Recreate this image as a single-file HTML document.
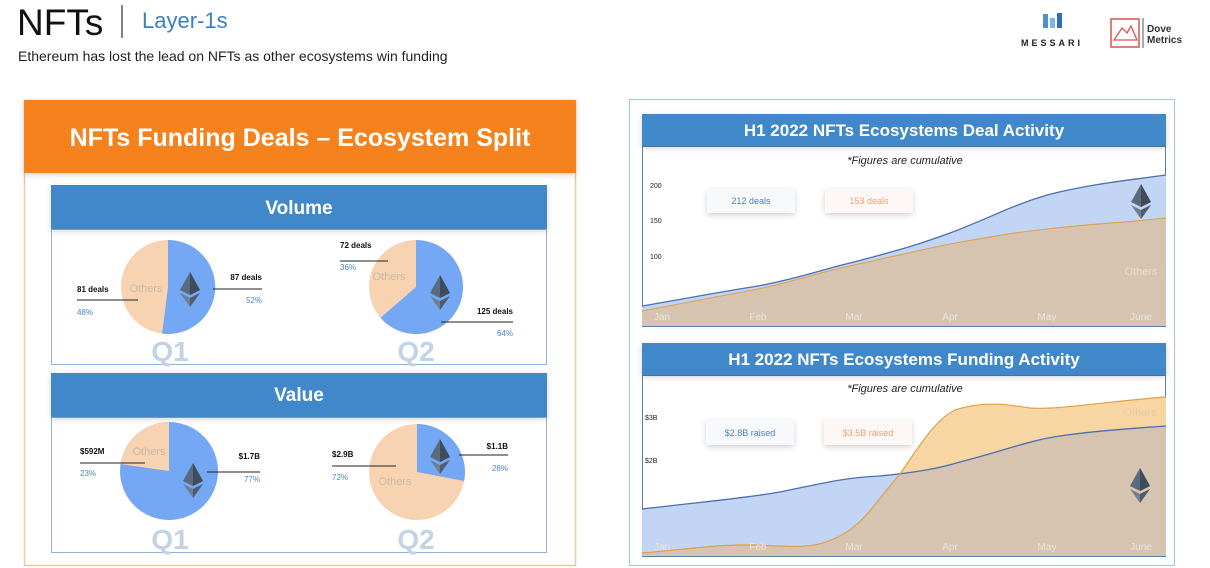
<!DOCTYPE html>
<html><head><meta charset="utf-8"><style>
body{margin:0;background:#fff;}
svg{display:block;font-family:"Liberation Sans",sans-serif;}
</style></head><body>
<svg width="1210" height="568" viewBox="0 0 1210 568" xmlns="http://www.w3.org/2000/svg">
<defs>
<filter id="sh" x="-10%" y="-30%" width="120%" height="160%"><feDropShadow dx="0" dy="2" stdDeviation="3" flood-color="#000" flood-opacity="0.18"/></filter>
<g id="eth"><polygon points="0,-17 -10,1 0,6 10,1" fill="#5a6b80"/><polygon points="0,-17 0,6 10,1" fill="#3e4c5e"/><polygon points="-10,4 0,18 10,4 0,9" fill="#6f7f93"/><polygon points="0,9 0,18 10,4" fill="#4e5c6e"/></g>
</defs>
<!-- header -->
<text x="17" y="35" font-size="37" fill="#111" font-weight="300">NFTs</text>
<line x1="122" y1="5" x2="122" y2="38" stroke="#333" stroke-width="1.2"/>
<text x="142" y="28" font-size="22" fill="#3a7fc4">Layer-1s</text>
<text x="18" y="61" font-size="14" fill="#222">Ethereum has lost the lead on NFTs as other ecosystems win funding</text>
<!-- logos -->
<g transform="translate(1052,22)"><rect x="-9" y="-8" width="5" height="14" fill="#4f8fd1"/><rect x="-2" y="-4" width="5" height="10" fill="#7fb3e6"/><rect x="5" y="-9" width="5" height="15" fill="#2f6db5"/></g>
<text x="1052" y="46" font-size="9" font-weight="bold" fill="#222" text-anchor="middle" letter-spacing="3">MESSARI</text>
<rect x="1111" y="19" width="28" height="28" fill="none" stroke="#d9534f" stroke-width="1.5"/>
<path d="M1114,40 L1122,28 L1127,33 L1131,26 L1137,40 Z" fill="none" stroke="#d9534f" stroke-width="1.3"/>
<line x1="1143" y1="18" x2="1143" y2="48" stroke="#555"/>
<text x="1147" y="32" font-size="10" font-weight="bold" fill="#333">Dove</text>
<text x="1147" y="43" font-size="10" font-weight="bold" fill="#333">Metrics</text>

<!-- LEFT PANEL -->
<rect x="24.5" y="100.5" width="551" height="465" fill="#fff" stroke="#e8c9a0" stroke-width="1.5"/>
<rect x="24" y="100" width="552" height="73" fill="#f5821f" filter="url(#sh)"/>
<text x="300" y="146" font-size="25" font-weight="bold" fill="#fff" text-anchor="middle">NFTs Funding Deals – Ecosystem Split</text>

<rect x="51.5" y="229.5" width="495" height="135" fill="#fff" stroke="#8fb2d6"/>
<rect x="51" y="185" width="496" height="44" fill="#3f88c9" filter="url(#sh)"/>
<text x="299" y="214" font-size="19" font-weight="bold" fill="#fff" text-anchor="middle">Volume</text>

<rect x="51.5" y="417.5" width="495" height="135" fill="#fff" stroke="#8fb2d6"/>
<rect x="51" y="373" width="496" height="44" fill="#3f88c9" filter="url(#sh)"/>
<text x="299" y="401" font-size="19" font-weight="bold" fill="#fff" text-anchor="middle">Value</text>

<!-- Q1 volume: 52% eth -->
<circle cx="168" cy="287" r="47" fill="#f7d3b1"/>
<path d="M168,287 L168,240 A47,47 0 1 1 162.1,333.6 Z" fill="#74a7f4"/>
<text x="146" y="292" font-size="11" fill="#c9b9a6" text-anchor="middle">Others</text>
<use href="#eth" transform="translate(190,289)"/>
<!-- Q2 volume: 64% eth -->
<circle cx="416" cy="287" r="47" fill="#f7d3b1"/>
<path d="M416,240 A47,47 0 1 1 380.5,317.8 L416,287 Z" fill="#74a7f4"/>
<text x="389" y="280" font-size="11" fill="#c9b9a6" text-anchor="middle">Others</text>
<use href="#eth" transform="translate(440,292)"/>
<!-- Q1 value: 77% eth -->
<circle cx="169" cy="471" r="49" fill="#74a7f4"/>
<path d="M169,471 L169,422 A49,49 0 0 0 120.5,464 Z" fill="#f7d3b1"/>
<text x="149" y="455" font-size="11" fill="#c9b9a6" text-anchor="middle">Others</text>
<use href="#eth" transform="translate(193,480)"/>
<!-- Q2 value: 28% eth -->
<circle cx="417" cy="472" r="48" fill="#f7d3b1"/>
<path d="M417,472 L417,424 A48,48 0 0 1 464.1,481 Z" fill="#74a7f4"/>
<text x="395" y="485" font-size="11" fill="#c9b9a6" text-anchor="middle">Others</text>
<use href="#eth" transform="translate(440,456)"/>

<g font-size="28" font-weight="bold" fill="#c2d3e6" text-anchor="middle">
<text x="170" y="361">Q1</text><text x="416" y="361">Q2</text>
<text x="170" y="549">Q1</text><text x="416" y="549">Q2</text>
</g>
<g font-size="8" font-weight="bold" fill="#111">
<text x="77" y="292">81 deals</text><text x="262" y="280" text-anchor="end">87 deals</text>
<text x="340" y="248">72 deals</text><text x="513" y="314" text-anchor="end">125 deals</text>
<text x="80" y="454">$592M</text><text x="260" y="459" text-anchor="end">$1.7B</text>
<text x="332" y="457">$2.9B</text><text x="508" y="449" text-anchor="end">$1.1B</text>
</g>
<g stroke="#222" stroke-width="1">
<line x1="77" y1="300" x2="138" y2="300"/><line x1="213" y1="289" x2="262" y2="289"/>
<line x1="340" y1="261" x2="388" y2="261"/><line x1="441" y1="322" x2="513" y2="322"/>
<line x1="80" y1="463" x2="145" y2="463"/><line x1="207" y1="472" x2="260" y2="472"/>
<line x1="332" y1="466" x2="396" y2="466"/><line x1="459" y1="455" x2="508" y2="455"/>
</g>
<g font-size="8" fill="#4a86c8">
<text x="77" y="315">48%</text><text x="262" y="303" text-anchor="end">52%</text>
<text x="340" y="270">36%</text><text x="513" y="336" text-anchor="end">64%</text>
<text x="80" y="476">23%</text><text x="260" y="482" text-anchor="end">77%</text>
<text x="332" y="480">72%</text><text x="508" y="471" text-anchor="end">28%</text>
</g>

<!-- RIGHT PANEL -->
<rect x="629.5" y="99.5" width="545" height="466" fill="#fff" stroke="#a9c8e4" stroke-width="1.2"/>
<!-- top chart -->
<rect x="642.5" y="146.5" width="523" height="180" fill="#fff" stroke="#5a7fa6"/>
<path d="M642,306 C700,296 720,292 758,286 C800,278 820,270 854,262 C900,250 920,244 950,233 C990,218 1010,206 1047,195 C1090,184 1130,180 1166,175 L1166,326 L642,326 Z" fill="#c3d5f4"/>
<path d="M642,306 C700,296 720,292 758,286 C800,278 820,270 854,262 C900,250 920,244 950,233 C990,218 1010,206 1047,195 C1090,184 1130,180 1166,175" fill="none" stroke="#4a6fb0" stroke-width="1.3"/>
<path d="M642,311 C700,300 720,296 758,289 C800,280 820,272 854,265 C900,255 920,250 950,244 C990,237 1010,233 1047,229 C1090,224 1130,222 1166,218 L1166,326 L642,326 Z" fill="#d6c4b0"/>
<path d="M642,311 C700,300 720,296 758,289 C800,280 820,272 854,265 C900,255 920,250 950,244 C990,237 1010,233 1047,229 C1090,224 1130,222 1166,218" fill="none" stroke="#e0a04a" stroke-width="1.1"/>
<rect x="642" y="114" width="524" height="32" fill="#3f88c9" filter="url(#sh)"/>
<text x="904" y="136" font-size="17" font-weight="bold" fill="#fff" text-anchor="middle">H1 2022 NFTs Ecosystems Deal Activity</text>
<text x="905" y="164" font-size="11" font-style="italic" fill="#222" text-anchor="middle">*Figures are cumulative</text>
<g font-size="7" fill="#222"><text x="650" y="188">200</text><text x="650" y="223">150</text><text x="650" y="259">100</text></g>
<rect x="707" y="189" width="88" height="24" fill="#f7f9fc" filter="url(#sh)"/>
<rect x="825" y="189" width="88" height="24" fill="#fdf8f5" filter="url(#sh)"/>
<text x="751" y="204" font-size="9" fill="#4a7fbf" text-anchor="middle">212 deals</text>
<text x="869" y="204" font-size="9" fill="#f0a070" text-anchor="middle">153 deals</text>
<use href="#eth" transform="translate(1141,201)"/>
<text x="1141" y="275" font-size="11" fill="#e8ddd2" text-anchor="middle">Others</text>
<g font-size="10" fill="#ece4da" text-anchor="middle"><text x="662" y="320">Jan</text><text x="758" y="320">Feb</text><text x="854" y="320">Mar</text><text x="950" y="320">Apr</text><text x="1047" y="320">May</text><text x="1141" y="320">June</text></g>

<!-- bottom chart -->
<rect x="642.5" y="375.5" width="523" height="181" fill="#fff" stroke="#5a7fa6"/>
<path d="M642,509 C700,502 740,499 780,492 C820,484 840,478 880,476 C920,472 940,468 960,462 C1000,452 1030,440 1060,436 C1100,430 1140,428 1166,426 L1166,556 L642,556 Z" fill="#c3d5f4"/>
<path d="M642,553 C700,548 720,544 758,545 C800,547 820,550 850,530 C870,515 885,490 900,474 C920,445 935,420 955,410 C985,400 1010,405 1030,408 C1060,410 1100,402 1166,397 L1166,556 L642,556 Z" fill="#f8d6a3"/>
<path d="M642,553 C700,548 720,544 758,545 C800,547 820,550 850,530 C870,515 885,490 900,474 C920,472 940,468 960,462 C1000,452 1030,440 1060,436 C1100,430 1140,428 1166,426 L1166,556 L642,556 Z" fill="#d6c4b0"/>
<path d="M642,509 C700,502 740,499 780,492 C820,484 840,478 880,476 C920,472 940,468 960,462 C1000,452 1030,440 1060,436 C1100,430 1140,428 1166,426" fill="none" stroke="#4a6fb0" stroke-width="1.3"/>
<path d="M642,553 C700,548 720,544 758,545 C800,547 820,550 850,530 C870,515 885,490 900,474 C920,445 935,420 955,410 C985,400 1010,405 1030,408 C1060,410 1100,402 1166,397" fill="none" stroke="#e0a04a" stroke-width="1.2"/>
<rect x="642" y="343" width="524" height="32" fill="#3f88c9" filter="url(#sh)"/>
<text x="904" y="365" font-size="17" font-weight="bold" fill="#fff" text-anchor="middle">H1 2022 NFTs Ecosystems Funding Activity</text>
<text x="905" y="392" font-size="11" font-style="italic" fill="#222" text-anchor="middle">*Figures are cumulative</text>
<g font-size="7" fill="#222"><text x="645" y="420">$3B</text><text x="645" y="463">$2B</text></g>
<rect x="706" y="420" width="88" height="25" fill="#f7f9fc" filter="url(#sh)"/>
<rect x="824" y="420" width="88" height="25" fill="#fdf8f5" filter="url(#sh)"/>
<text x="750" y="436" font-size="9" fill="#4a7fbf" text-anchor="middle">$2.8B raised</text>
<text x="868" y="436" font-size="9" fill="#f0a070" text-anchor="middle">$3.5B raised</text>
<use href="#eth" transform="translate(1140,485)"/>
<text x="1140" y="416" font-size="11" fill="#e3cba8" text-anchor="middle">Others</text>
<g font-size="10" fill="#ece4da" text-anchor="middle"><text x="662" y="550">Jan</text><text x="758" y="550">Feb</text><text x="854" y="550">Mar</text><text x="950" y="550">Apr</text><text x="1047" y="550">May</text><text x="1141" y="550">June</text></g>
</svg>
</body></html>
